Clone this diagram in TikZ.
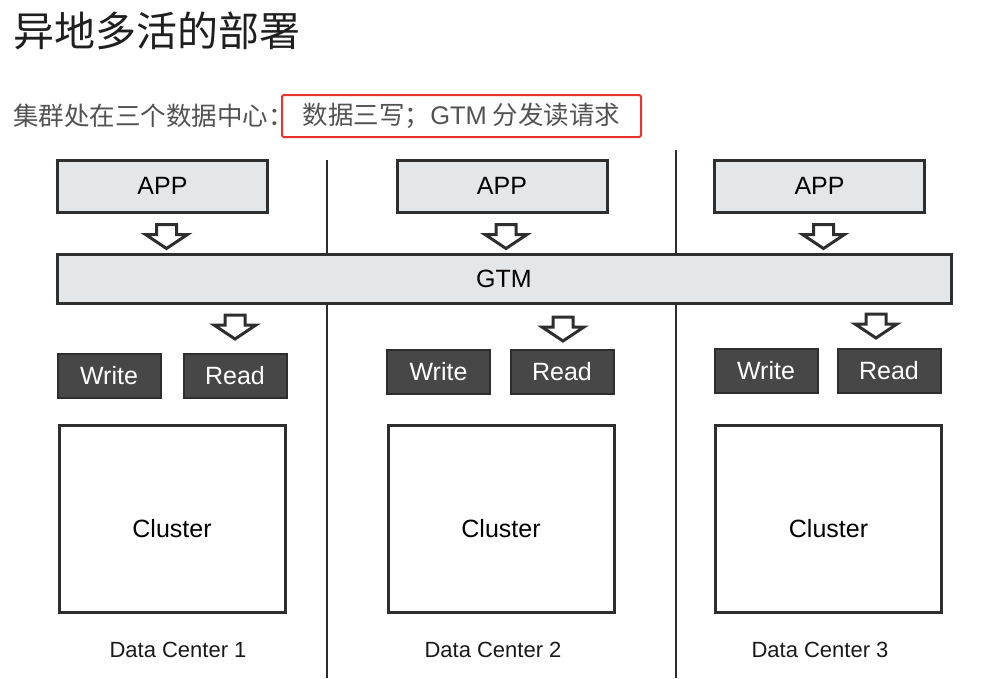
\documentclass[tikz,border=0pt]{standalone}
\usepackage{fontspec}
\setmainfont{Liberation Sans}
\newfontfamily\cjk{Noto Sans CJK SC}
\usetikzlibrary{positioning}
\definecolor{boxgray}{HTML}{E4E7EA}
\definecolor{darkfill}{HTML}{474747}
\definecolor{edgegray}{HTML}{2E2E2E}
\definecolor{markred}{HTML}{E8322B}

\begin{document}
\begin{tikzpicture}[x=1pt, y=-1pt,
		lightbox/.style={draw=edgegray, line width=3pt, fill=boxgray, inner sep=0pt, font=\fontsize{25}{25}\selectfont},
		darkbox/.style={draw=edgegray, line width=2pt, fill=darkfill, text=white, inner sep=0pt, minimum width=103pt, minimum height=44pt, font=\fontsize{25}{25}\selectfont},
		clusterbox/.style={draw=edgegray, line width=3pt, fill=white, inner sep=0pt, minimum width=226pt, minimum height=187pt},
		sepline/.style={draw=edgegray, line width=2.6pt},
		hollowarrow/.pic={\draw[draw=edgegray, line width=3pt, fill=white, line join=miter] (-10,0) -- (10,0) -- (10,10) -- (21,10) -- (0,24) -- (-21,10) -- (-10,10) -- cycle;}]
		\useasboundingbox (0,0) rectangle (987,678);
		% Title and lead line
		\node[anchor=west, inner sep=0pt, text=black!88, font=\cjk\fontsize{41}{41}\selectfont] (title) at (13,31) {异地多活的部署};
		\node[anchor=west, inner sep=0pt, text=black!68, font=\cjk\fontsize{25.5}{25.5}\selectfont] (lead) at (13,116) {集群处在三个数据中心：};
		\node[draw=markred, line width=2pt, rounded corners=2pt, minimum width=359pt, minimum height=42pt, inner sep=0pt, text=black!68, font=\cjk\fontsize{25.5}{25.5}\selectfont] (key) at (461.5,116) {数据三写；{\rmfamily GTM} 分发读请求};
		
		% Separators between the data centers
		\coordinate (sepAtop) at (327,160);
		\coordinate (sepAbot) at (327,678);
		\coordinate (sepBtop) at (676,150);
		\coordinate (sepBbot) at (676,678);
		\draw[sepline] (sepAtop) -- (sepAbot);
		\draw[sepline] (sepBtop) -- (sepBbot);
		
		\node[lightbox, minimum width=894pt, minimum height=49pt] (gtm) at (504,278.5) {GTM};
		
		% One column per data center
		\foreach \n/\ax/\wx/\rx/\ry/\kx/\ky/\cx/\dx in {1/162.5/109/235/376/235/315/172/178, 2/502/438.5/562/372/563/317/501/493, 3/819.5/766/889/370.5/876/314/828.5/820}
		{
			\node[lightbox, minimum width=210pt, minimum height=52pt] (app\n) at (\ax,186) {APP};
			\path (app\n.south) ++(4,11) pic {hollowarrow};
			\path (\kx,\ky) pic {hollowarrow};
			\node[darkbox] (write\n) at (\wx,\ry) {Write};
			\node[darkbox] (read\n) at (\rx,\ry) {Read};
			\node[clusterbox, label={[yshift=-10pt, font=\fontsize{25}{25}\selectfont]center:Cluster}] (cluster\n) at (\cx,518.5) {};
			\node[font=\fontsize{22}{22}\selectfont, text=black!90] (dc\n) at (\dx,650) {Data Center \n};
		}
	\end{tikzpicture}
\end{document}
